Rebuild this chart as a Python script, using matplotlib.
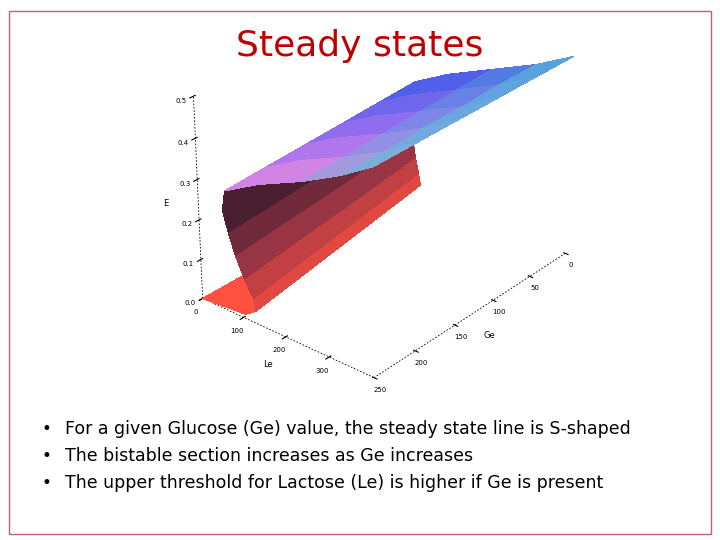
import numpy as np
import matplotlib
matplotlib.use('Agg')
import matplotlib.pyplot as plt
from matplotlib.colors import LinearSegmentedColormap
from matplotlib.patches import Rectangle

# Folded steady-state surface: for each Ge, the S-shaped curve Le(E)
ge_values = [0, 50, 100, 150, 200, 250]
e_levels = [0, 0.01, 0.03, 0.06, 0.1, 0.15, 0.2, 0.25, 0.3, 0.35, 0.4, 0.45, 0.5]
le_curves = [
    [0, 30, 55, 50, 42, 35, 30, 28, 40, 120, 220, 320, 400],
    [0, 45, 70, 65, 55, 45, 38, 34, 45, 125, 225, 320, 400],
    [0, 60, 85, 80, 68, 55, 46, 40, 50, 130, 230, 325, 400],
    [0, 75, 100, 95, 80, 65, 54, 46, 55, 135, 235, 325, 400],
    [0, 90, 115, 110, 92, 75, 62, 52, 60, 140, 240, 330, 400],
    [0, 105, 130, 125, 105, 85, 70, 58, 65, 145, 245, 330, 400],
]
bullets = [
    "For a given Glucose (Ge) value, the steady state line is S-shaped",
    "The bistable section increases as Ge increases",
    "The upper threshold for Lactose (Le) is higher if Ge is present",
]

fig = plt.figure(figsize=(7.2, 5.4), dpi=100)
fig.patch.set_facecolor('white')
fig.patches.append(Rectangle((0.012, 0.012), 0.976, 0.968, transform=fig.transFigure,
                             fill=False, edgecolor='#c06080', linewidth=1.0))
fig.text(0.5, 0.915, "Steady states", ha='center', va='center',
         fontsize=26, color='#c00000')

ax = fig.add_axes([0.03, 0.28, 1.0, 0.76], projection='3d')
E, G = np.meshgrid(e_levels, ge_values)
L = np.array(le_curves, dtype=float)

# colours: bright red lower branch, maroon wall, pink->blue plateau, cyan far end
lower = LinearSegmentedColormap.from_list('low', ['#ff5040', '#983444', '#4a2030'])
upper = LinearSegmentedColormap.from_list('up', ['#5060e8', '#a070f0', '#f090d8'])
colors = np.where((E < 0.3)[..., None], lower(np.clip(E / 0.2, 0, 1)),
                  upper(np.array(G) / 250))
tint = np.clip((L - 150) / 250, 0, 1)[..., None] * (E[..., None] >= 0.3)
colors[..., :3] = colors[..., :3] * (1 - tint) + np.array([0.35, 0.75, 0.85]) * tint
ax.plot_surface(G, L, E, facecolors=colors, shade=False, rstride=1, cstride=1,
                linewidth=0, antialiased=False)
for j in range(3, 9):
    ax.plot(ge_values, L[:, j], E[:, j], color='#101010', lw=0.5, ls=(0, (4, 1.5)))
ax.set_xlim(0, 250)
ax.set_ylim(0, 400)
ax.set_zlim(0, 0.5)
ax.set_box_aspect((1.5, 1.1, 1.1), zoom=1.05)
ax.set_xticks([0, 50, 100, 150, 200, 250])
ax.set_yticks([0, 100, 200, 300])
ax.set_zticks([0, 0.1, 0.2, 0.3, 0.4, 0.5])
ax.set_xlabel("Ge", fontsize=6, labelpad=-8)
ax.set_ylabel("Le", fontsize=6, labelpad=-8)
ax.set_zlabel("E", fontsize=6, labelpad=-8)
ax.tick_params(labelsize=5, pad=-3)
for axis in (ax.xaxis, ax.yaxis, ax.zaxis):
    axis.pane.fill = False
    axis.pane.set_edgecolor('white')
    axis._axinfo['grid']['linewidth'] = 0
    axis.line.set_linestyle((0, (2, 2)))
    axis.line.set_linewidth(0.6)
ax.grid(False)
ax.view_init(elev=28, azim=40)

for i, b in enumerate(bullets):
    y = 0.205 - i * 0.05
    fig.text(0.058, y, "•", fontsize=12, va='center')
    fig.text(0.09, y, b, fontsize=12.5, va='center')

plt.savefig('out.png', dpi=100)
